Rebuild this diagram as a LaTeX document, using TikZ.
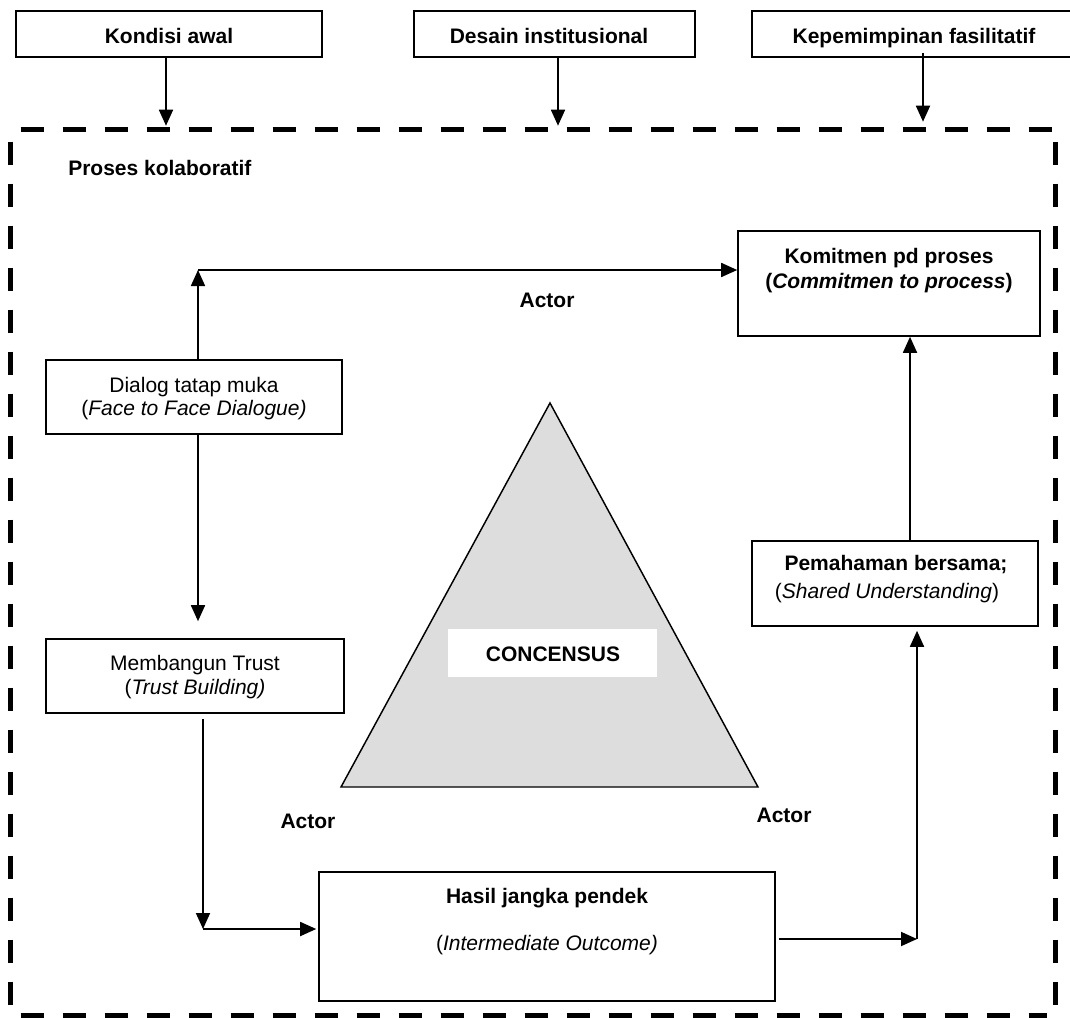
\documentclass[tikz,border=0pt]{standalone}
\usepackage{fontspec}
\setmainfont{Liberation Sans}
\usetikzlibrary{arrows.meta,calc,fit}
\definecolor{trifill}{HTML}{DDDDDD}
\begin{document}
\begin{tikzpicture}[x=0.75pt,y=-0.75pt,
  every node/.style={font=\fontsize{15.75}{18.75}\selectfont},
  box/.style={draw, line width=1.2pt, inner sep=0pt},
  txt/.style={inner sep=0pt, anchor=base},
  btxt/.style={txt, font=\fontsize{15.75}{18.75}\selectfont\bfseries},
  arr/.style={line width=1.3pt, -{Triangle[length=12pt,width=10.5pt]}},
  frameline/.style={line width=3.75pt, dash pattern=on 17.25pt off 14.25pt},
]
\useasboundingbox (0,0) rectangle (1070,1017);

% inputs of the collaborative process
\node[box, fit={(16,11) (322,57)}] (kondisi) {};
\node[btxt] (kondisiT) at (169,43) {Kondisi awal};
\node[box, fit={(414,11) (695,57)}] (desain) {};
\node[btxt] (desainT) at (549,43) {Desain institusional};
\node[box, fit={(752,11) (1075,57)}] (kepem) {};
\node[btxt] (kepemT) at (914,43) {Kepemimpinan fasilitatif};

% dashed frame of the collaborative process
\node[inner sep=0pt, fit={(11,130) (1055,1015)}] (frame) {};
\draw[frameline] ($(frame.north west)+(10,0)$) -- (frame.north east);
\draw[frameline] ($(frame.north west)+(0,12)$) -- (frame.south west);
\draw[frameline] ($(frame.north east)+(0,12)$) -- ($(frame.south east)+(0,-5)$);
\draw[frameline] ($(frame.south west)+(10,0)$) -- ($(frame.south east)+(-8,0)$);
\node[btxt, anchor=base west] (proses) at (68,175) {Proses kolaboratif};

\draw[arr] ($(kondisi.south)+(-3,0)$) -- ($(kondisi.south |- frame.north)+(-3,-4)$);
\draw[arr] ($(desain.south)+(3.5,0)$) -- ($(desain.south |- frame.north)+(3.5,-4)$);
\draw[arr] ($(kepem.south)+(9.5,-5)$) -- ($(kepem.south |- frame.north)+(9.5,-8)$);

% process boxes
\node[box, fit={(738,231) (1040,336)}] (komitmen) {};
\node[btxt] (komitmenA) at (889,263) {Komitmen pd proses};
\node[btxt] (komitmenB) at (889,288) {(\textit{Commitmen to process})};

\node[box, fit={(46,360) (342,434)}] (dialog) {};
\node[txt] (dialogA) at (194,392) {Dialog tatap muka};
\node[txt] (dialogB) at (194,415) {(\textit{Face to Face Dialogue)}};

\node[box, fit={(46,639) (344,713)}] (membangun) {};
\node[txt] (membangunA) at (195,670) {Membangun Trust};
\node[txt] (membangunB) at (195,694) {(\textit{Trust Building)}};

\node[box, fit={(752,541) (1038,626)}] (pemahaman) {};
\node[btxt] (pemahamanA) at (896,570) {Pemahaman bersama;};
\node[txt] (pemahamanB) at (887,598) {(\textit{Shared Understanding})};

\node[box, fit={(319,872) (775,1001)}] (hasil) {};
\node[btxt] (hasilA) at (547,903) {Hasil jangka pendek};
\node[txt] (hasilB) at (547,950) {(\textit{Intermediate Outcome)}};

% consensus triangle with its actors
\coordinate (apex) at (550,403);
\coordinate (baseL) at (341,787);
\coordinate (baseR) at (758,787);
\draw[line width=1.1pt, fill=trifill] (apex) -- (baseL) -- (baseR) -- cycle;
\node[fill=white, inner sep=0pt, fit={(448,629) (657,677)}] (cons) {};
\node[btxt] (consT) at (553,661) {CONCENSUS};
\node[btxt] (actorT) at (547,307) {Actor};
\node[btxt] (actorL) at (308,828) {Actor};
\node[btxt] (actorR) at (784,822) {Actor};

% connectors of the cycle
\coordinate (turnA) at (198,270);
\draw[arr] (dialog.north -| turnA) -- (turnA);
\draw[arr] (turnA) -- (turnA -| komitmen.west);
\draw[arr] (dialog.south -| turnA) -- ($(membangun.north -| turnA)+(0,-17)$);

\coordinate (turnB) at (203,929);
\draw[arr] ($(membangun.south -| turnB)+(0,5)$) -- (turnB);
\draw[arr] (turnB) -- ($(turnB -| hasil.west)+(-2,0)$);

\coordinate (turnC) at (917,939);
\draw[arr] ($(hasil.east |- turnC)+(3,0)$) -- (turnC);
\draw[arr] (turnC) -- ($(turnC |- pemahaman.south)+(0,4)$);

\coordinate (turnD) at (910,541);
\draw[arr] (turnD) -- (turnD |- komitmen.south);
\end{tikzpicture}
\end{document}
